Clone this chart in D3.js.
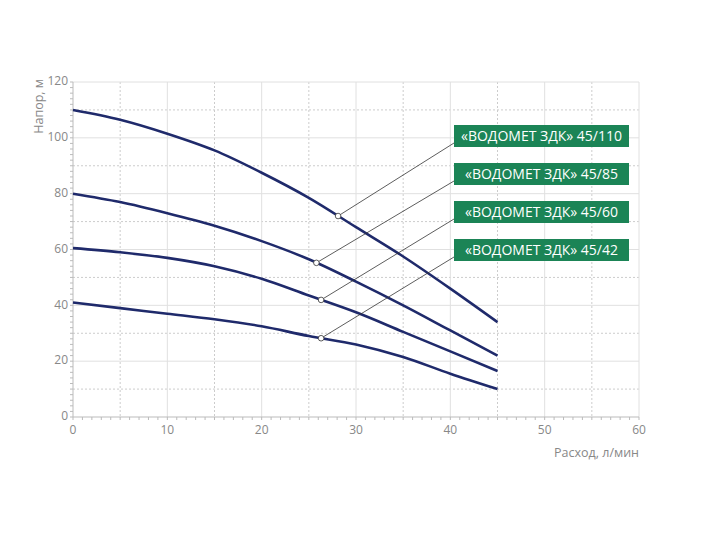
<!DOCTYPE html>
<html><head><meta charset="utf-8">
<script src="https://cdn.jsdelivr.net/npm/d3@7"></script>
<style>body{margin:0;background:#fff;font-family:"Open Sans",sans-serif}</style>
</head><body><div id="chart"></div>
<script>
const flow = [0, 5, 10, 15, 20, 25, 30, 35, 40, 45];
const head110 = [110, 106.5, 101.5, 95.5, 87.5, 78.5, 68, 57.5, 46, 34];
const head85 = [80, 77, 73, 68.5, 63, 56.5, 48.5, 40, 31, 22];
const head60 = [60.5, 59, 57, 54, 49.5, 43.5, 37.5, 30.5, 23.5, 16.5];
const head42 = [41, 39, 37, 35, 32.5, 29, 26, 21.5, 15.5, 10];
const names = ["«ВОДОМЕТ ЗДК» 45/110", "«ВОДОМЕТ ЗДК» 45/85", "«ВОДОМЕТ ЗДК» 45/60", "«ВОДОМЕТ ЗДК» 45/42"];
const markX = [28.1, 25.8, 26.3, 26.3];
const xTicks = [0, 10, 20, 30, 40, 50, 60];
const yTicks = [0, 20, 40, 60, 80, 100, 120];

const W = 706, H = 540;
const margin = {left: 73, top: 82, right: 67, bottom: 123};
const width = W - margin.left - margin.right, height = H - margin.top - margin.bottom;
const x = d3.scaleLinear().domain([0, 60]).range([0, width]);
const y = d3.scaleLinear().domain([0, 120]).range([height, 0]);

const svg = d3.select("#chart").append("svg").attr("width", W).attr("height", H)
  .append("g").attr("transform", `translate(${margin.left},${margin.top})`);

// minor dotted grid
svg.selectAll(".vminor").data(d3.range(5, 60, 10)).enter().append("line")
  .attr("x1", d => x(d)).attr("x2", d => x(d)).attr("y1", 0).attr("y2", height)
  .attr("stroke", "#ccc").attr("stroke-dasharray", "2,2");
svg.selectAll(".hminor").data(d3.range(10, 120, 20)).enter().append("line")
  .attr("x1", 0).attr("x2", width).attr("y1", d => y(d)).attr("y2", d => y(d))
  .attr("stroke", "#ccc").attr("stroke-dasharray", "2,2");
// major grid
svg.selectAll(".vmajor").data(xTicks.slice(1)).enter().append("line")
  .attr("x1", d => x(d)).attr("x2", d => x(d)).attr("y1", 0).attr("y2", height)
  .attr("stroke", "#e0e0e0");
svg.selectAll(".hmajor").data(yTicks.slice(1)).enter().append("line")
  .attr("x1", 0).attr("x2", width).attr("y1", d => y(d)).attr("y2", d => y(d))
  .attr("stroke", "#e0e0e0");

// axes
svg.append("line").attr("x1", 0).attr("x2", width).attr("y1", height).attr("y2", height).attr("stroke", "#bbb");
svg.append("line").attr("x1", 0).attr("x2", 0).attr("y1", 0).attr("y2", height).attr("stroke", "#bbb");
svg.selectAll(".xt").data(d3.range(0, 61, 1)).enter().append("line")
  .attr("x1", d => x(d)).attr("x2", d => x(d)).attr("y1", height).attr("y2", height + 3).attr("stroke", "#bbb");
svg.selectAll(".yt").data(d3.range(0, 121, 2)).enter().append("line")
  .attr("x1", -3).attr("x2", 0).attr("y1", d => y(d)).attr("y2", d => y(d)).attr("stroke", "#bbb");
svg.selectAll(".xl").data(xTicks).enter().append("text")
  .attr("x", d => x(d)).attr("y", height + 17).attr("text-anchor", "middle")
  .attr("font-size", "12px").attr("fill", "#888").text(d => d);
svg.selectAll(".yl").data(yTicks).enter().append("text")
  .attr("x", -5).attr("y", d => y(d)).attr("text-anchor", "end").attr("dominant-baseline", "middle")
  .attr("font-size", "12px").attr("fill", "#888").text(d => d);
svg.append("text").attr("x", width).attr("y", height + 40).attr("text-anchor", "end")
  .attr("font-size", "12.5px").attr("fill", "#888").text("Расход, л/мин");
svg.append("text").attr("transform", `translate(-30,-3) rotate(-90)`).attr("text-anchor", "end")
  .attr("font-size", "12.5px").attr("fill", "#888").text("Напор, м");

// curves
const series = [head110, head85, head60, head42];
const line = d3.line().x((d, i) => x(flow[i])).y(d => y(d)).curve(d3.curveMonotoneX);
svg.selectAll(".curve").data(series).enter().append("path")
  .attr("d", d => line(d)).attr("fill", "none").attr("stroke", "#1f2a6b").attr("stroke-width", 2.6);

// labels
const boxX = 454 - margin.left, boxW = 175, boxH = 22;
const boxY = [43, 43 + 38, 43 + 76, 43 + 114];
series.forEach((s, i) => {
  const interp = d3.scaleLinear().domain(flow).range(s);
  const px = x(markX[i]), py = y(interp(markX[i]));
  svg.append("line").attr("x1", px).attr("y1", py).attr("x2", boxX).attr("y2", boxY[i] + boxH - 4)
    .attr("stroke", "#333").attr("stroke-width", 0.8);
  svg.append("circle").attr("cx", px).attr("cy", py).attr("r", 2.8)
    .attr("fill", "#fff").attr("stroke", "#333").attr("stroke-width", 0.8);
  svg.append("rect").attr("x", boxX).attr("y", boxY[i]).attr("width", boxW).attr("height", boxH)
    .attr("fill", "#1b8456");
  svg.append("text").attr("x", boxX + boxW / 2).attr("y", boxY[i] + boxH / 2 + 1)
    .attr("text-anchor", "middle").attr("dominant-baseline", "middle")
    .attr("font-size", "14px").attr("font-weight", 500).attr("fill", "#fff").text(names[i]);
});
</script></body></html>
